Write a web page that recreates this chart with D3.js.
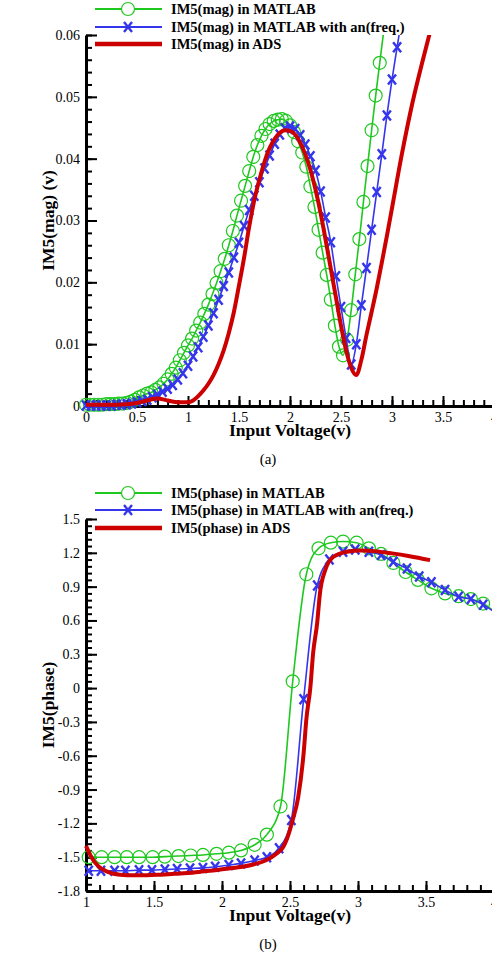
<!DOCTYPE html>
<html lang="en">
<head>
    <meta charset="UTF-8">
    <title>IM5 magnitude and phase</title>
    <style>
        body { margin: 0; background: #fff; }
        svg, svg text { font-family: "Liberation Serif", "Times New Roman", Times, "DejaVu Serif", serif; }
        .axis path.domain { stroke: #000; stroke-width: 3px; }
        .axis .tick line { stroke: #000; stroke-width: 2px; }
        .axis text { font-size: 14px; fill: #000; font-family: "Liberation Serif", "Times New Roman", Times, serif; }
        .title { font-weight: bold; font-size: 17.5px; }
        .legend-text { font-weight: bold; font-size: 14.5px; }
        .caption { font-size: 15px; }
    </style>
    <script src="https://d3js.org/d3.v7.min.js"></script>
</head>
<body>
    <div id="chart"></div>
    <script>
        // ---- (a) IM5 magnitude ----
        const magMatlabX = [0, 0.04, 0.08, 0.12, 0.16, 0.2, 0.24, 0.28, 0.32, 0.36, 0.4, 0.44, 0.48, 0.52, 0.56, 0.6, 0.64, 0.68, 0.72, 0.76,
            0.8, 0.84, 0.88, 0.92, 0.96, 1, 1.04, 1.08, 1.12, 1.16, 1.2, 1.24, 1.28, 1.32, 1.36, 1.4, 1.44, 1.48, 1.52, 1.56,
            1.6, 1.64, 1.68, 1.72, 1.76, 1.8, 1.84, 1.88, 1.92, 1.96, 2, 2.04, 2.08, 2.12, 2.16, 2.2, 2.24, 2.28, 2.32, 2.36,
            2.4, 2.44, 2.48, 2.52, 2.56, 2.6, 2.64, 2.68, 2.72, 2.76, 2.8, 2.84, 2.88, 2.92];
        const magMatlabY = [0.0002, 0.0002, 0.0002, 0.0002, 0.0002, 0.0003, 0.0003, 0.0003, 0.0004, 0.0004, 0.0005, 0.0007, 0.001, 0.0014, 0.0017, 0.002, 0.0022, 0.0026, 0.003, 0.0036,
            0.0043, 0.0052, 0.0062, 0.0074, 0.0086, 0.0098, 0.0109, 0.0122, 0.0135, 0.0149, 0.0164, 0.0181, 0.0199, 0.0218, 0.0238, 0.026, 0.0283, 0.0308, 0.0332, 0.0356,
            0.038, 0.0403, 0.0422, 0.0437, 0.0448, 0.0456, 0.0461, 0.0463, 0.0464, 0.0461, 0.0454, 0.0443, 0.0428, 0.041, 0.0387, 0.0355, 0.0322, 0.0285, 0.0248, 0.0212,
            0.0172, 0.013, 0.0096, 0.0082, 0.0107, 0.0155, 0.0213, 0.027, 0.033, 0.0388, 0.0446, 0.0502, 0.0555, 0.0608];

        const magFreqX = [0, 0.05, 0.1, 0.15, 0.2, 0.25, 0.3, 0.35, 0.4, 0.45, 0.5, 0.55, 0.6, 0.65, 0.7, 0.75, 0.8, 0.85, 0.9, 0.95,
            1, 1.05, 1.1, 1.15, 1.2, 1.25, 1.3, 1.35, 1.4, 1.45, 1.5, 1.55, 1.6, 1.65, 1.7, 1.75, 1.8, 1.85, 1.9, 1.95,
            2, 2.05, 2.1, 2.15, 2.2, 2.25, 2.3, 2.35, 2.4, 2.45, 2.5, 2.55, 2.6, 2.65, 2.7, 2.75, 2.8, 2.85, 2.9, 2.95,
            3, 3.05, 3.1];
        const magFreqY = [0.0001, 0.0001, 0.0001, 0.0001, 0.0001, 0.0001, 0.0002, 0.0002, 0.0003, 0.0004, 0.0006, 0.0008, 0.001, 0.0014, 0.0018, 0.0023, 0.0028, 0.0034, 0.0043, 0.0053,
            0.0065, 0.008, 0.0095, 0.0112, 0.013, 0.015, 0.0172, 0.0194, 0.0216, 0.024, 0.0264, 0.0291, 0.0317, 0.034, 0.0362, 0.0384, 0.0405, 0.0424, 0.0439, 0.0449,
            0.0452, 0.0448, 0.0438, 0.0423, 0.0404, 0.0381, 0.0347, 0.0305, 0.0265, 0.021, 0.016, 0.011, 0.0067, 0.01, 0.0163, 0.0223, 0.0285, 0.0346, 0.0407, 0.047,
            0.0528, 0.058, 0.0632];

        const magAdsX = [0, 0.2, 0.4, 0.5, 0.6, 0.7, 0.8, 0.9, 1, 1.05, 1.1, 1.15, 1.2, 1.25, 1.3, 1.35, 1.4, 1.45, 1.5, 1.55,
            1.6, 1.65, 1.7, 1.75, 1.8, 1.85, 1.9, 1.95, 2, 2.05, 2.1, 2.15, 2.2, 2.25, 2.3, 2.35, 2.4, 2.45, 2.5, 2.55,
            2.6, 2.65, 2.7, 2.75, 2.8, 2.85, 2.9, 2.95, 3, 3.1, 3.2, 3.3, 3.37];
        const magAdsY = [0.0002, 0.0002, 0.0003, 0.0005, 0.0009, 0.0012, 0.0009, 0.0006, 0.0006, 0.0009, 0.0016, 0.0025, 0.0036, 0.005, 0.0068, 0.009, 0.0118, 0.0152, 0.0195, 0.024,
            0.029, 0.0333, 0.0366, 0.0395, 0.0417, 0.0432, 0.0442, 0.0446, 0.0445, 0.0439, 0.0426, 0.0407, 0.0382, 0.035, 0.0312, 0.0268, 0.0222, 0.0176, 0.013, 0.009,
            0.0062, 0.005, 0.0075, 0.0115, 0.0152, 0.019, 0.0232, 0.0275, 0.032, 0.041, 0.049, 0.0558, 0.0603];

        const magXTicks = [0, 0.5, 1, 1.5, 2, 2.5, 3, 3.5, 4];
        const magXTickLabels = ["0", "0.5", "1", "1.5", "2", "2.5", "3", "3.5", "4"];
        const magYTicks = [0, 0.01, 0.02, 0.03, 0.04, 0.05, 0.06];
        const magYTickLabels = ["0", "0.01", "0.02", "0.03", "0.04", "0.05", "0.06"];
        const magLegend = ["IM5(mag) in MATLAB", "IM5(mag) in MATLAB with an(freq.)", "IM5(mag) in ADS"];

        // ---- (b) IM5 phase ----
        const phaseMatlabX = [1.02, 1.115, 1.21, 1.3, 1.39, 1.49, 1.58, 1.68, 1.77, 1.86, 1.96, 2.05, 2.14, 2.24, 2.33, 2.43, 2.52,
            2.62, 2.71, 2.8, 2.89, 2.99, 3.08, 3.17, 3.26, 3.35, 3.44, 3.54, 3.64, 3.74, 3.83, 3.92, 4.02];
        const phaseMatlabY = [-1.5, -1.5, -1.5, -1.5, -1.5, -1.5, -1.495, -1.49, -1.485, -1.48, -1.47, -1.46, -1.44, -1.39, -1.3, -1.05, 0.06,
            1.01, 1.24, 1.29, 1.3, 1.29, 1.24, 1.19, 1.11, 1.03, 0.96, 0.885, 0.84, 0.815, 0.79, 0.75, 0.66];

        const phaseFreqX = [1.02, 1.11, 1.21, 1.29, 1.39, 1.485, 1.58, 1.67, 1.765, 1.86, 1.95, 2.05, 2.14, 2.24, 2.33, 2.42, 2.51,
            2.6, 2.7, 2.79, 2.89, 2.98, 3.08, 3.17, 3.26, 3.36, 3.45, 3.54, 3.64, 3.74, 3.83, 3.92, 4.02];
        const phaseFreqY = [-1.62, -1.62, -1.62, -1.62, -1.615, -1.615, -1.61, -1.605, -1.6, -1.595, -1.585, -1.57, -1.555, -1.53, -1.5, -1.42, -1.17,
            -0.1, 0.91, 1.14, 1.21, 1.23, 1.21, 1.18, 1.12, 1.06, 0.99, 0.94, 0.87, 0.81, 0.79, 0.74, 0.66];

        const phaseAdsX = [1, 1.04, 1.09, 1.16, 1.25, 1.35, 1.45, 1.55, 1.65, 1.75, 1.85, 1.95, 2.05, 2.15, 2.23, 2.32, 2.4, 2.45,
            2.48, 2.52, 2.56, 2.6, 2.62, 2.65, 2.67, 2.7, 2.72, 2.76, 2.82, 2.92, 3.02, 3.12, 3.25, 3.38, 3.53];
        const phaseAdsY = [-1.4, -1.5, -1.58, -1.63, -1.655, -1.66, -1.66, -1.655, -1.648, -1.64, -1.628, -1.615, -1.6, -1.585, -1.565, -1.53, -1.47, -1.41,
            -1.33, -1.17, -0.97, -0.58, -0.28, 0.01, 0.31, 0.58, 0.84, 1.05, 1.165, 1.21, 1.22, 1.215, 1.195, 1.17, 1.135];

        const phaseXTicks = [1, 1.5, 2, 2.5, 3, 3.5, 4];
        const phaseXTickLabels = ["1", "1.5", "2", "2.5", "3", "3.5", "4"];
        const phaseYTicks = [-1.8, -1.5, -1.2, -0.9, -0.6, -0.3, 0, 0.3, 0.6, 0.9, 1.2, 1.5];
        const phaseYTickLabels = ["-1.8", "-1.5", "-1.2", "-0.9", "-0.6", "-0.3", "0", "0.3", "0.6", "0.9", "1.2", "1.5"];
        const phaseLegend = ["IM5(phase) in MATLAB", "IM5(phase) in MATLAB with an(freq.)", "IM5(phase) in ADS"];

        const green = "#1fc81f", blue = "#3535ec", red = "#cc0000";
        const serif = '"Liberation Serif", "Times New Roman", Times, serif';

        const svg = d3.select("#chart")
            .append("svg")
            .attr("width", 492)
            .attr("height", 958)
            .attr("font-family", serif);

        function drawPanel(p) {
            const x = d3.scaleLinear().domain(p.xDomain).range([86, 494]);
            const y = d3.scaleLinear().domain(p.yDomain).range([p.bottom, p.top]);
            const g = svg.append("g");

            // clip so the curves stop at the frame top / right
            g.append("clipPath").attr("id", p.id)
                .append("rect")
                .attr("x", 60).attr("y", p.top)
                .attr("width", 434).attr("height", p.bottom - p.top + 20);

            // minor ticks (inward)
            const xMinor = g.append("g").attr("class", "axis")
                .attr("transform", `translate(0,${p.bottom})`)
                .call(d3.axisBottom(x).tickValues(p.xMinor).tickSizeInner(-6).tickSizeOuter(0).tickFormat(""));
            xMinor.select(".domain").remove();
            const yMinor = g.append("g").attr("class", "axis")
                .attr("transform", "translate(86,0)")
                .call(d3.axisLeft(y).tickValues(p.yMinor).tickSizeInner(-6).tickSizeOuter(0).tickFormat(""));
            yMinor.select(".domain").remove();

            // major ticks and labels
            g.append("g").attr("class", "axis")
                .attr("transform", `translate(0,${p.bottom})`)
                .call(d3.axisBottom(x).tickValues(p.xTicks).tickFormat((d, i) => p.xTickLabels[i])
                    .tickSizeInner(-10).tickSizeOuter(0).tickPadding(6))
                .attr("font-family", serif);
            g.append("g").attr("class", "axis")
                .attr("transform", "translate(86,0)")
                .call(d3.axisLeft(y).tickValues(p.yTicks).tickFormat((d, i) => p.yTickLabels[i])
                    .tickSizeInner(-11).tickSizeOuter(0).tickPadding(6))
                .attr("font-family", serif);

            const line = d3.line()
                .x(d => x(d[0]))
                .y(d => y(d[1]))
                .curve(d3.curveMonotoneX);

            const plot = g.append("g").attr("clip-path", `url(#${p.id})`);

            p.series.forEach(s => {
                const pts = s.xs.map((v, i) => [v, s.ys[i]]);
                plot.append("path")
                    .attr("d", line(pts))
                    .attr("fill", "none")
                    .attr("stroke", s.color)
                    .attr("stroke-width", s.width);

                // markers only where the point lies inside the frame
                const inside = pts.filter(d => d[1] <= p.yDomain[1] && d[0] <= p.xDomain[1]);
                if (s.marker === "circle") {
                    plot.selectAll(null).data(inside).enter().append("circle")
                        .attr("cx", d => x(d[0]))
                        .attr("cy", d => y(d[1]))
                        .attr("r", 6.5)
                        .attr("fill", "none")
                        .attr("stroke", s.color)
                        .attr("stroke-width", 1.2);
                } else if (s.marker === "x") {
                    plot.selectAll(null).data(inside).enter().append("path")
                        .attr("transform", d => `translate(${x(d[0])},${y(d[1])})`)
                        .attr("d", "M-4,-5L4,5M-4,5L4,-5")
                        .attr("stroke", s.color)
                        .attr("stroke-width", 2.4);
                }
            });

            // legend
            const legend = g.selectAll(".legend")
                .data(p.series)
                .enter().append("g")
                .attr("class", "legend")
                .attr("transform", (d, i) => `translate(0,${p.legendY[i]})`);

            legend.append("line")
                .attr("x1", 95).attr("x2", 162)
                .attr("stroke", d => d.color)
                .attr("stroke-width", d => d.legendWidth);
            legend.filter(d => d.marker === "circle").append("circle")
                .attr("cx", 128).attr("r", 6.5)
                .attr("fill", "#fff").attr("stroke", d => d.color).attr("stroke-width", 1.2);
            legend.filter(d => d.marker === "x").append("path")
                .attr("transform", "translate(128,0)")
                .attr("d", "M-4,-5L4,5M-4,5L4,-5")
                .attr("stroke", d => d.color).attr("stroke-width", 2.4);
            legend.append("text")
                .attr("class", "legend-text")
                .attr("x", 171)
                .attr("y", 5)
                .text(d => d.name);

            // titles
            g.append("text")
                .attr("class", "title")
                .attr("x", 290)
                .attr("y", p.bottom + 30)
                .attr("text-anchor", "middle")
                .text("Input Voltage(v)");
            g.append("text")
                .attr("class", "title")
                .attr("transform", `translate(54,${(p.top + p.bottom) / 2}) rotate(-90)`)
                .attr("text-anchor", "middle")
                .text(p.yTitle);
            g.append("text")
                .attr("class", "caption")
                .attr("x", 268)
                .attr("y", p.bottom + 58)
                .attr("text-anchor", "middle")
                .text(p.caption);
        }

        drawPanel({
            id: "clipA",
            xDomain: [0, 4], yDomain: [0, 0.06],
            top: 35, bottom: 406,
            xTicks: magXTicks, xTickLabels: magXTickLabels, xMinor: d3.range(0, 4.001, 0.1),
            yTicks: magYTicks, yTickLabels: magYTickLabels, yMinor: d3.range(0, 0.0601, 0.002),
            yTitle: "IM5(mag) (v)", caption: "(a)",
            legendY: [9, 27, 44],
            series: [
                { name: magLegend[0], xs: magMatlabX, ys: magMatlabY, color: green, width: 1.6, legendWidth: 2, marker: "circle" },
                { name: magLegend[1], xs: magFreqX, ys: magFreqY, color: blue, width: 1.6, legendWidth: 2, marker: "x" },
                { name: magLegend[2], xs: magAdsX, ys: magAdsY, color: red, width: 4, legendWidth: 4.5, marker: null }
            ]
        });

        drawPanel({
            id: "clipB",
            xDomain: [1, 4], yDomain: [-1.8, 1.5],
            top: 519, bottom: 891,
            xTicks: phaseXTicks, xTickLabels: phaseXTickLabels, xMinor: d3.range(1, 4.001, 0.1),
            yTicks: phaseYTicks, yTickLabels: phaseYTickLabels, yMinor: d3.range(-1.8, 1.501, 0.06),
            yTitle: "IM5(phase)", caption: "(b)",
            legendY: [493, 510, 528],
            series: [
                { name: phaseLegend[0], xs: phaseMatlabX, ys: phaseMatlabY, color: green, width: 1.6, legendWidth: 2, marker: "circle" },
                { name: phaseLegend[1], xs: phaseFreqX, ys: phaseFreqY, color: blue, width: 1.6, legendWidth: 2, marker: "x" },
                { name: phaseLegend[2], xs: phaseAdsX, ys: phaseAdsY, color: red, width: 4, legendWidth: 4.5, marker: null }
            ]
        });
    </script>
</body>
</html>
